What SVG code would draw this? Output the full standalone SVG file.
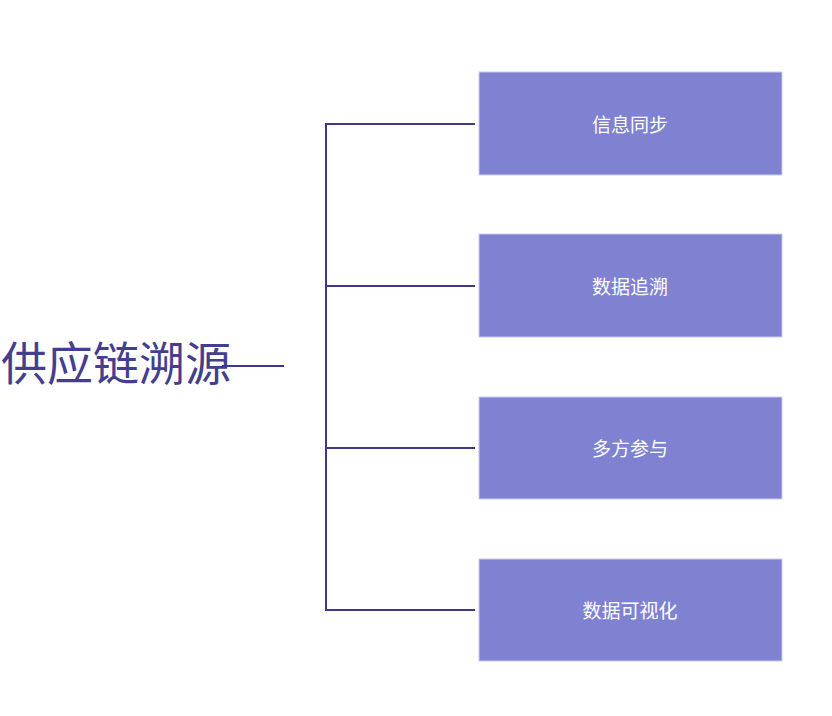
<svg xmlns="http://www.w3.org/2000/svg" width="832" height="716" viewBox="0 0 832 716">
<style>
.box{fill:#7e82d1;stroke:#c9cbee;stroke-width:1}
.lbl{fill:#ffffff;font-family:"Noto Sans CJK SC","Noto Sans",sans-serif;font-size:19px;text-anchor:middle;dominant-baseline:central}
.conn{fill:none;stroke:#3d3888;stroke-width:2}
.title{fill:#433e8e;font-family:"Noto Sans CJK SC","Noto Sans",sans-serif;font-size:46px}
</style>
<rect width="832" height="716" fill="#ffffff"/>
<g id="root"><text class="title" x="1" y="380">供应链溯源</text></g>
<g id="connectors">
<path class="conn" d="M222 366H284"/>
<path class="conn" d="M475 124H326V610H475"/>
<path class="conn" d="M326 286H475"/>
<path class="conn" d="M326 448H475"/>
</g>
<g id="n1"><rect class="box" x="479" y="72" width="303" height="103"/><text class="lbl" x="630" y="123">信息同步</text></g>
<g id="n2"><rect class="box" x="479" y="234" width="303" height="103"/><text class="lbl" x="630" y="285">数据追溯</text></g>
<g id="n3"><rect class="box" x="479" y="397" width="303" height="102"/><text class="lbl" x="630" y="447">多方参与</text></g>
<g id="n4"><rect class="box" x="479" y="559" width="303" height="102"/><text class="lbl" x="630" y="609">数据可视化</text></g>
</svg>
